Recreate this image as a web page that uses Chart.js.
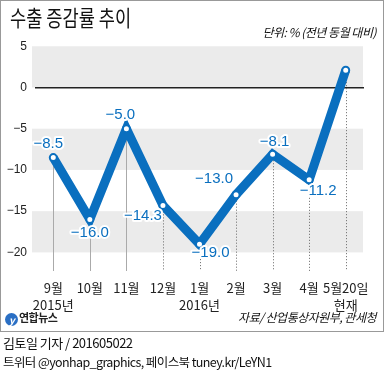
<!DOCTYPE html>
<html>
<head>
<meta charset="utf-8">
<script src="https://cdn.jsdelivr.net/npm/chart.js@4"></script>
<style>
  body { margin: 0; width: 386px; height: 370px; background: #fff; position: relative; overflow: hidden;
         font-family: "Noto Sans CJK KR", "Liberation Sans", sans-serif; }
  #frame { position: absolute; left: 0; top: 0; width: 382px; height: 330px; border: 1px solid #999; box-sizing: content-box; }
  #chart { position: absolute; left: 0; top: 0; }
  .t { position: absolute; white-space: nowrap; color: #111; }
  #title { left: 10px; top: 0px; font-size: 22px; transform: scaleX(0.8); transform-origin: 0 0; }
  #unit { right: 10px; top: 23px; font-size: 12px; font-style: italic; letter-spacing: -0.5px; }
  #logo { left: 5px; top: 309px; font-size: 11px; font-weight: bold; color: #222; letter-spacing: -0.5px; }
  #logo span { display: inline-block; width: 13px; height: 13px; border-radius: 50%; background: #2a6fc4;
               color: #fff; font-size: 10px; line-height: 13px; text-align: center; font-style: italic; vertical-align: -2px; margin-right: 1px; }
  #src { right: 10px; top: 308px; font-size: 12px; font-style: italic; letter-spacing: -0.5px; }
  #by { left: 3px; top: 333px; font-size: 13px; letter-spacing: -0.5px; }
  #sns { left: 3px; top: 352px; font-size: 12.5px; letter-spacing: -0.6px; }
</style>
</head>
<body>
<div id="frame"></div>
<canvas id="chart" width="386" height="370"></canvas>
<div class="t" id="title">수출 증감률 추이</div>
<div class="t" id="unit">단위: % (전년 동월 대비)</div>
<div class="t" id="logo"><span>y</span>연합뉴스</div>
<div class="t" id="src">자료/ 산업통상자원부, 관세청</div>
<div class="t" id="by">김토일 기자 / 201605022</div>
<div class="t" id="sns">트위터 @yonhap_graphics, 페이스북 tuney.kr/LeYN1</div>
<script>
// data
const months = [["9월", "2015년"], "10월", "11월", "12월", ["1월", "2016년"], "2월", "3월", "4월", ["5월20일", "현재"]];
const exportGrowth = [-8.5, -16.0, -5.0, -14.3, -19.0, -13.0, -8.1, -11.2, 2.1];
const valueLabels = ["−8.5", "−16.0", "−5.0", "−14.3", "−19.0", "−13.0", "−8.1", "−11.2", ""];
const yTicks = [5, 0, -5, -10, -15, -20];
const bands = [[5, 0], [-5, -10], [-15, -20]];

// label offsets from each point (px)
const labelOffsets = [[-5, -14], [0, 13], [-6, -14], [-20, 10], [11, 9], [-22, -16], [2, -12], [9, 11], [0, 0]];
const blue = "#0a6fbf";

const bgPlugin = {
  id: "bg",
  beforeDraw(chart) {
    const { ctx, chartArea, scales } = chart;
    ctx.save();
    ctx.fillStyle = "#ebebeb";
    bands.forEach(([a, b]) => {
      const y1 = scales.y.getPixelForValue(a);
      const y2 = scales.y.getPixelForValue(b);
      ctx.fillRect(chartArea.left - 3, y1, chartArea.right - chartArea.left + 2, y2 - y1);
    });
    ctx.restore();
  },
  // guide lines from each point down to the axis
  beforeDatasetsDraw(chart) {
    const { ctx, chartArea } = chart;
    const pts = chart.getDatasetMeta(0).data;
    ctx.save();
    pts.forEach((p, i) => {
      ctx.beginPath();
      if (i < 3) {
        ctx.strokeStyle = "#aaa";
        ctx.lineWidth = 1;
        ctx.setLineDash([]);
      } else {
        ctx.strokeStyle = "#666";
        ctx.lineWidth = 1;
        ctx.setLineDash([1, 2]);
      }
      const x = Math.round(p.x) + 0.5;
      ctx.moveTo(x, p.y);
      ctx.lineTo(x, chartArea.bottom - 2);
      ctx.stroke();
    });
    ctx.restore();
  },
  // value labels with white halo
  afterDatasetsDraw(chart) {
    const { ctx } = chart;
    const pts = chart.getDatasetMeta(0).data;
    ctx.save();
    ctx.font = "15px 'Liberation Sans', Arial, sans-serif";
    ctx.textAlign = "center";
    ctx.textBaseline = "middle";
    ctx.lineJoin = "round";
    pts.forEach((p, i) => {
      if (!valueLabels[i]) return;
      const x = p.x + labelOffsets[i][0];
      const y = p.y + labelOffsets[i][1];
      ctx.strokeStyle = "#fff";
      ctx.lineWidth = 4;
      ctx.strokeText(valueLabels[i], x, y);
      ctx.fillStyle = blue;
      ctx.fillText(valueLabels[i], x, y);
    });
    ctx.restore();
  }
};

new Chart(document.getElementById("chart"), {
  type: "line",
  data: {
    labels: months,
    datasets: [{
      data: exportGrowth,
      borderColor: blue,
      borderWidth: 9,
      borderJoinStyle: "miter",
      tension: 0,
      pointRadius: 3.5,
      pointBorderWidth: 2,
      pointBackgroundColor: "#fff",
      pointBorderColor: blue
    }]
  },
  options: {
    responsive: false,
    animation: false,
    layout: { padding: { top: 38, left: 0, right: 22, bottom: 52 } },
    plugins: { legend: { display: false }, tooltip: { enabled: false } },
    scales: {
      x: {
        offset: true,
        grid: { display: false, drawTicks: false },
        border: { display: false },
        ticks: { color: "#222", padding: 7, maxRotation: 0, autoSkip: false,
                 font: { size: 13, family: "'Noto Sans CJK KR', sans-serif", lineHeight: "17px" } },
        afterFit: (s) => { s.height = 45; }
      },
      y: {
        min: -22.5,
        max: 6,
        border: { display: false },
        grid: {
          drawTicks: false,
          lineWidth: 1.5,
          color: (c) => (c.tick && c.tick.value === 0 ? "#222" : "rgba(0,0,0,0)")
        },
        afterBuildTicks: (s) => { s.ticks = yTicks.map((v) => ({ value: v })); },
        ticks: {
          color: "#222", padding: 8,
          font: { size: 12, family: "'Liberation Sans', Arial, sans-serif" },
          callback: (v) => String(v).replace("-", "−")
        },
        afterFit: (s) => { s.width = 35; }
      }
    }
  },
  plugins: [bgPlugin]
});
</script>
</body>
</html>
